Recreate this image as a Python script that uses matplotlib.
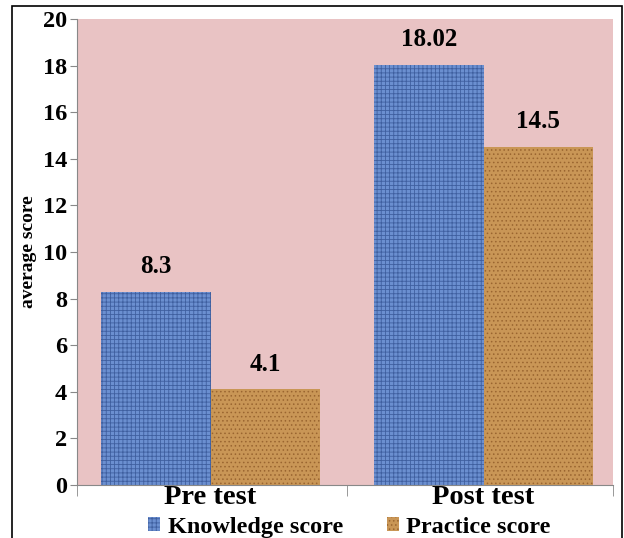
import matplotlib.pyplot as plt
import numpy as np
from matplotlib.patches import Rectangle

categories = ["Pre test", "Post test"]
knowledge = [8.3, 18.02]
practice = [4.1, 14.5]
knowledge_labels = ["8.3", "18.02"]
practice_labels = ["4.1", "14.5"]
yticks = [0, 2, 4, 6, 8, 10, 12, 14, 16, 18, 20]

plt.rcParams["font.family"] = ["Liberation Serif", "DejaVu Serif"]
plt.rcParams["font.weight"] = "bold"
plt.rcParams["hatch.linewidth"] = 0.6

fig = plt.figure(figsize=(6.24, 5.38), dpi=100)
ax = fig.add_axes([77 / 624, 1 - 485 / 538, 536 / 624, 466 / 538])
ax.set_facecolor("#e9c3c4")

# outer frame of the picture
fig.patches.append(Rectangle((12 / 624, -0.02), 610 / 624, 1.02 - 6 / 538,
                             transform=fig.transFigure, fill=False,
                             edgecolor="black", lw=1.2, clip_on=False))

x = np.arange(len(categories))
w = 0.401
kb = ax.bar(x - w / 2, knowledge, w, color="#6b8fd0", edgecolor="#3f5f9f",
            hatch="++++", linewidth=0, label="Knowledge score")
pb = ax.bar(x + w / 2, practice, w, color="#c99656", edgecolor="#9a6530",
            hatch="....", linewidth=0, label="Practice score")

for bars, labels in ((kb, knowledge_labels), (pb, practice_labels)):
    for rect, txt in zip(bars, labels):
        ax.annotate(txt, (rect.get_x() + rect.get_width() / 2, rect.get_height()),
                    xytext=(0, 10), textcoords="offset points", ha="center",
                    va="bottom", fontsize=18, fontweight="bold")

ax.set_xlim(-0.489, 1.474)
ax.set_ylim(0, 20)
ax.set_yticks(yticks)
ax.tick_params(axis="y", labelsize=17.5, length=5, color="#888888", pad=2)
ax.set_xticks(x)
ax.set_xticklabels(categories, fontsize=20.5, fontweight="bold")
ax.tick_params(axis="x", length=0, pad=0)
ax.set_xticks([-0.489, 0.5, 1.474], minor=True)
ax.tick_params(axis="x", which="minor", length=8, color="#888888")
for s in ("top", "right"):
    ax.spines[s].set_visible(False)
for s in ("left", "bottom"):
    ax.spines[s].set_color("#888888")
ax.set_ylabel("average score", fontsize=14, fontweight="bold", labelpad=4)

fig.legend(handles=[kb, pb], loc="lower center", bbox_to_anchor=(0.56, -0.04),
           ncol=2, frameon=False, fontsize=17.5, handlelength=0.5,
           handleheight=0.5, handletextpad=0.3, columnspacing=1.8)

fig.savefig("out.png", dpi=100)
